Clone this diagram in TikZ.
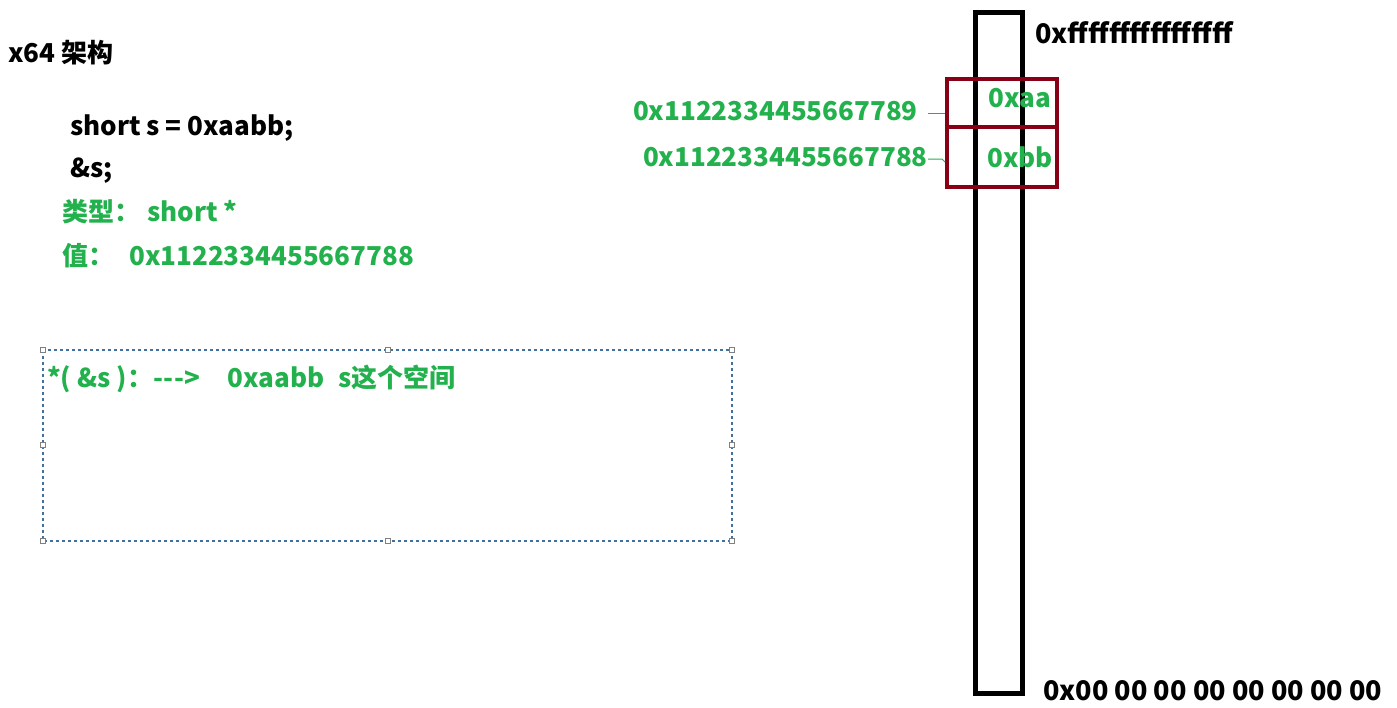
\documentclass[tikz,border=0pt]{standalone}
\usepackage{fontspec}
\setmainfont{Noto Sans CJK SC}
\usetikzlibrary{positioning}
\definecolor{codegreen}{HTML}{22B14C}
\definecolor{boxred}{HTML}{880015}
\definecolor{selblue}{HTML}{41719C}
\tikzset{
  txt/.style={font=\fontsize{26}{30}\selectfont\bfseries, inner sep=0pt, anchor=base west},
  gtxt/.style={txt, text=codegreen},
  cell/.style={draw=boxred, line width=4pt, minimum width=110pt, inner sep=0pt},
  tick/.style={draw=codegreen, line width=1pt},
  handle/.style={draw=gray, fill=white, minimum size=5pt, inner sep=0pt, line width=0.8pt},
}
\begin{document}
\begin{tikzpicture}[x=1pt, y=-1pt]
  \useasboundingbox (0,0) rectangle (1397,707);
  % left column: code and notes
  \node[txt] (title) at (8,62) {x64 架构};
  \node[txt] (decl) at (70,135) {short s = 0xaabb;};
  \node[txt] (addr) at (70,177) {\&s;};
  \node[gtxt] (ptype) at (62,221) {类型：\hspace{7pt}short *};
  \node[gtxt] (pval) at (62,265) {值：\hspace{15pt}0x1122334455667788};
  % selected text box
  \draw[selblue, dashed, line width=1.2pt] (43,350) rectangle (732,541);
  \foreach \hx/\hy in {43/350, 388/350, 732/350, 43/445, 732/445, 43/541, 388/541, 732/541}
    \node[handle] at (\hx,\hy) {};
  \node[gtxt] (note) at (47,387) {*( \&s )：-\kern1pt-\kern1pt->\hspace{27pt}0xaabb\hspace{14pt}s这个空间};
  % memory column
  \node[draw, line width=5pt, minimum width=47pt, minimum height=681pt, inner sep=0pt] (mem) at (998.5,352.5) {};
  \node[txt, font=\fontsize{27}{30}\selectfont\bfseries] (top) at (1035,43) {0xffffffffffffffff};
  \node[txt, font=\fontsize{27}{30}\selectfont\bfseries] (bottom) at (1043,700) {0x00 00 00 00 00 00 00 00};
  % the two bytes of s
  \node[cell, minimum height=48pt] (cellhi) at (1002,103) {};
  \node[cell, minimum height=60pt] (celllo) at (1002,157) {};
  \node[gtxt, anchor=center] (valhi) at (1020,98) {0xaa};
  \node[gtxt, anchor=center] (vallo) at (1020,157) {0xbb};
  \node[gtxt, anchor=east] (hiaddr) at (918,111) {0x1122334455667789};
  \node[gtxt, anchor=east] (loaddr) at (928,157) {0x1122334455667788};
  \draw[tick] ([xshift=10pt,yshift=-2pt]hiaddr.east) -- ([yshift=-2pt]hiaddr.east -| cellhi.west);
  \draw[tick] ([yshift=-2pt]loaddr.east) -- ++(14,0) -- ([yshift=-5pt]loaddr.east -| celllo.west);
\end{tikzpicture}
\end{document}
